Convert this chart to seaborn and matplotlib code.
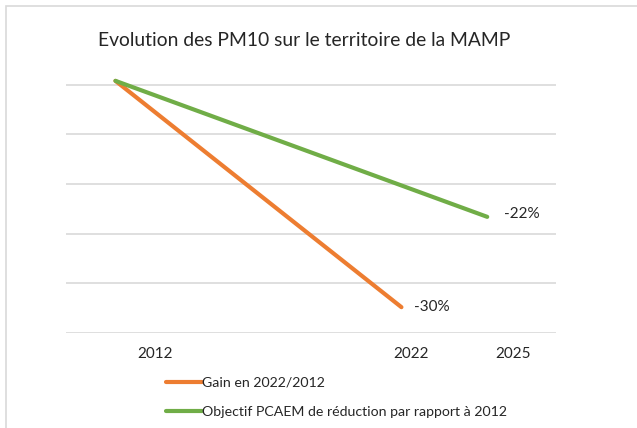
import matplotlib
matplotlib.use("Agg")
import matplotlib.pyplot as plt
import matplotlib.transforms as mtransforms
import pandas as pd
import seaborn as sns

# data (y in index units, gridlines every 5)
gain_years = [2012, 2022]
gain_values = [25.4, 2.6]
objectif_years = [2012, 2025]
objectif_values = [25.4, 11.7]
tick_years = [2012, 2022, 2025]
gain_label = "-30%"
objectif_label = "-22%"
series_names = ["Gain en 2022/2012", "Objectif PCAEM de réduction par rapport à 2012"]
colors = ["#ED7D31", "#70AD47"]

df = pd.concat([
    pd.DataFrame({"annee": gain_years, "valeur": gain_values, "serie": series_names[0]}),
    pd.DataFrame({"annee": objectif_years, "valeur": objectif_values, "serie": series_names[1]}),
])

sns.set_style("white")
plt.rcParams["font.family"] = ["Lato", "DejaVu Sans"]

fig = plt.figure(figsize=(6.37, 4.28), dpi=100)
ax = fig.add_axes([0.1036, 0.222, 0.769, 0.603])

sns.lineplot(data=df, x="annee", y="valeur", hue="serie", palette=colors,
             linewidth=3.0, ax=ax, legend=True, solid_capstyle="round")
for line in ax.lines:
    line.set_clip_on(False)

ax.set_xlim(2010.27, 2027.4)
ax.set_ylim(0, 26)
ax.set_yticks([0, 5, 10, 15, 20, 25])
ax.set_yticklabels([])
ax.tick_params(axis="y", length=0)
ax.yaxis.grid(True, color="#D9D9D9", linewidth=1.2)
ax.set_xticks(tick_years)
ax.set_xticklabels([str(y) for y in tick_years], fontsize=11)
ax.tick_params(axis="x", length=0, pad=10)
for lab, dx in zip(ax.get_xticklabels(), [40, 10, 26]):
    lab.set_transform(lab.get_transform() + mtransforms.ScaledTranslation(dx / 100, 0, fig.dpi_scale_trans))
for s in ax.spines.values():
    s.set_visible(False)
ax.set_xlabel("")
ax.set_ylabel("")

ax.annotate(gain_label, (gain_years[-1], gain_values[-1]), xytext=(9, 0),
            textcoords="offset points", va="center", ha="left", fontsize=11)
ax.annotate(objectif_label, (objectif_years[-1], objectif_values[-1]), xytext=(12, 2),
            textcoords="offset points", va="center", ha="left", fontsize=11)

handles, labels = ax.get_legend_handles_labels()
ax.get_legend().remove()
fig.legend(handles, labels, loc="upper left", bbox_to_anchor=(0.252, 0.133),
           frameon=False, fontsize=10.2, handlelength=2.5, handletextpad=0.0,
           labelspacing=1.2, borderaxespad=0)

fig.text(98 / 637, 1 - 41 / 428, "Evolution des PM10 sur le territoire de la MAMP",
         ha="left", va="center", fontsize=13.9)

fig.patches.append(plt.Rectangle((6 / 637, -0.1), 1.2, 1 - 6 / 428 + 0.1,
                                 transform=fig.transFigure, fill=False,
                                 edgecolor="#D9D9D9", linewidth=1.2))

fig.savefig("out.png", dpi=100, facecolor="white")
